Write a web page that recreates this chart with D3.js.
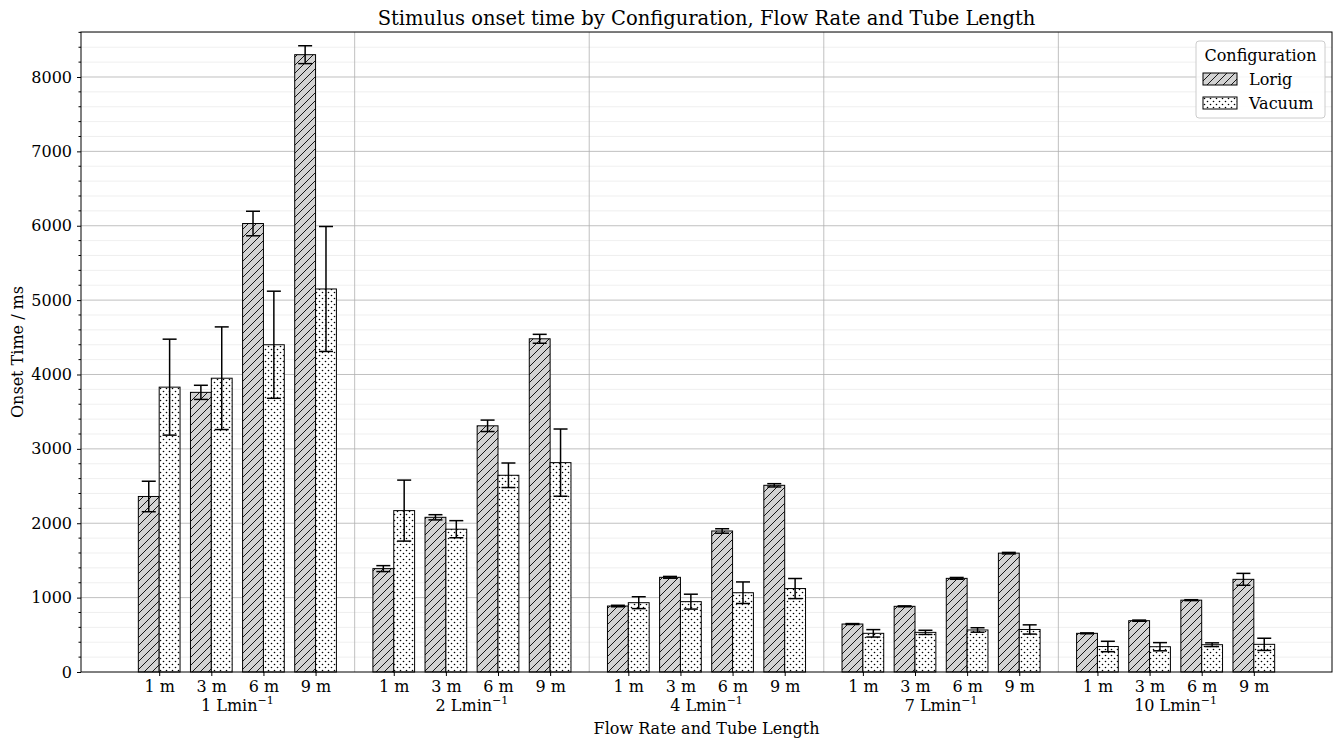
<!DOCTYPE html>
<html>
<head>
<meta charset="utf-8">
<script src="https://cdn.jsdelivr.net/npm/d3@7"></script>
<style>
  body { margin: 0; background: #fff; }
  text { font-family: "DejaVu Serif", serif; fill: #000; }
</style>
</head>
<body>
<script>
var flowRates = ["1", "2", "4", "7", "10"];
var tubeLengths = ["1 m", "3 m", "6 m", "9 m"];
var configs = ["Lorig", "Vacuum"];

// mean onset times (ms), one row per flow rate, one value per tube length
var lorigMean = [
  [2360, 3760, 6030, 8300],
  [1390, 2080, 3310, 4480],
  [887, 1273, 1896, 2510],
  [645, 883, 1259, 1598],
  [520, 690, 966, 1246]
];
var lorigErr = [
  [205, 95, 165, 120],
  [40, 35, 77, 60],
  [10, 12, 30, 22],
  [6, 6, 12, 10],
  [6, 8, 6, 80]
];
var vacuumMean = [
  [3830, 3950, 4400, 5150],
  [2170, 1920, 2645, 2815],
  [932, 946, 1066, 1122],
  [520, 533, 565, 572],
  [343, 340, 367, 372]
];
var vacuumErr = [
  [645, 690, 720, 840],
  [410, 115, 165, 452],
  [80, 100, 145, 135],
  [50, 28, 30, 62],
  [70, 55, 25, 82]
];
var yTicks = [0, 1000, 2000, 3000, 4000, 5000, 6000, 7000, 8000];

var W = 1335, H = 741;
var m = {left: 81, right: 3, top: 32, bottom: 69};

var svg = d3.select("body").append("svg")
  .attr("width", W).attr("height", H);

var defs = svg.append("defs");
var hatch = defs.append("pattern").attr("id", "hatch")
  .attr("patternUnits", "userSpaceOnUse").attr("width", 8).attr("height", 8);
hatch.append("rect").attr("width", 8).attr("height", 8).attr("fill", "#d3d3d3");
hatch.append("path").attr("d", "M-2,2 l4,-4 M0,8 l8,-8 M6,10 l4,-4")
  .attr("stroke", "#000").attr("stroke-width", 0.9);
var dots = defs.append("pattern").attr("id", "dots")
  .attr("patternUnits", "userSpaceOnUse").attr("width", 6).attr("height", 6);
dots.append("rect").attr("width", 6).attr("height", 6).attr("fill", "#fff");
dots.append("circle").attr("cx", 1.5).attr("cy", 1.5).attr("r", 0.8).attr("fill", "#000");
dots.append("circle").attr("cx", 4.5).attr("cy", 4.5).attr("r", 0.8).attr("fill", "#000");

// build flat rows
var rows = [];
flowRates.forEach(function(f, g) {
  tubeLengths.forEach(function(t, j) {
    rows.push({g: g, j: j, pos: g * 4.5 + j, cfg: 0, mean: lorigMean[g][j], err: lorigErr[g][j]});
    rows.push({g: g, j: j, pos: g * 4.5 + j, cfg: 1, mean: vacuumMean[g][j], err: vacuumErr[g][j]});
  });
});
var positions = [];
flowRates.forEach(function(f, g) {
  tubeLengths.forEach(function(t, j) { positions.push({g: g, j: j, pos: g * 4.5 + j}); });
});

var x = d3.scaleLinear().domain([-1.5, 22.5]).range([m.left, W - m.right]);
var y = d3.scaleLinear().domain([0, 8605]).range([H - m.bottom, m.top]);
var bw = x(0.4) - x(0);

// grid
var minor = d3.range(200, 8605, 200).filter(d => d % 1000 != 0);
svg.append("g").selectAll("line").data(minor).enter().append("line")
  .attr("x1", m.left).attr("x2", W - m.right)
  .attr("y1", d => y(d)).attr("y2", d => y(d))
  .attr("stroke", "#ebebeb").attr("stroke-width", 0.8);
svg.append("g").selectAll("line").data(yTicks.slice(1)).enter().append("line")
  .attr("x1", m.left).attr("x2", W - m.right)
  .attr("y1", d => y(d)).attr("y2", d => y(d))
  .attr("stroke", "#b0b0b0").attr("stroke-width", 0.8);
svg.append("g").selectAll("line").data([1, 2, 3, 4]).enter().append("line")
  .attr("x1", d => x(d * 4.5 - 0.75)).attr("x2", d => x(d * 4.5 - 0.75))
  .attr("y1", m.top).attr("y2", H - m.bottom)
  .attr("stroke", "#b0b0b0").attr("stroke-width", 0.8);

// bars
svg.append("g").selectAll("rect").data(rows).enter().append("rect")
  .attr("x", d => d.cfg == 0 ? x(d.pos) - bw : x(d.pos))
  .attr("y", d => y(d.mean))
  .attr("width", bw)
  .attr("height", d => y(0) - y(d.mean))
  .attr("fill", d => d.cfg == 0 ? "url(#hatch)" : "url(#dots)")
  .attr("stroke", "#000").attr("stroke-width", 1);

// error bars
var eb = svg.append("g").selectAll("g").data(rows).enter().append("g")
  .attr("transform", d => "translate(" + (x(d.pos) + (d.cfg == 0 ? -bw / 2 : bw / 2)) + ",0)");
eb.append("line").attr("y1", d => y(d.mean - d.err)).attr("y2", d => y(d.mean + d.err))
  .attr("stroke", "#000").attr("stroke-width", 1.5);
eb.append("line").attr("x1", -7).attr("x2", 7)
  .attr("y1", d => y(d.mean + d.err)).attr("y2", d => y(d.mean + d.err))
  .attr("stroke", "#000").attr("stroke-width", 1.5);
eb.append("line").attr("x1", -7).attr("x2", 7)
  .attr("y1", d => y(d.mean - d.err)).attr("y2", d => y(d.mean - d.err))
  .attr("stroke", "#000").attr("stroke-width", 1.5);

// frame
svg.append("rect").attr("x", m.left).attr("y", m.top)
  .attr("width", W - m.left - m.right).attr("height", H - m.top - m.bottom)
  .attr("fill", "none").attr("stroke", "#000").attr("stroke-width", 1);

// y axis
var yAxis = svg.append("g").attr("transform", "translate(" + m.left + ",0)")
  .call(d3.axisLeft(y).tickValues(yTicks).tickFormat(d3.format("d")).tickSize(4).tickPadding(5));
yAxis.select(".domain").remove();
yAxis.selectAll("text").style("font-size", "16px").style("font-family", "DejaVu Serif");
svg.append("g").selectAll("line").data(minor).enter().append("line")
  .attr("x1", m.left - 2.5).attr("x2", m.left)
  .attr("y1", d => y(d)).attr("y2", d => y(d)).attr("stroke", "#000");

// x axis
var xAxis = svg.append("g").attr("transform", "translate(0," + (H - m.bottom) + ")")
  .call(d3.axisBottom(x).tickValues(positions.map(p => p.pos))
    .tickFormat((d, i) => tubeLengths[positions[i].j]).tickSize(4).tickPadding(5));
xAxis.select(".domain").remove();
xAxis.selectAll("text").style("font-size", "16px").style("font-family", "DejaVu Serif");

var groupLabels = svg.append("g").selectAll("text").data(flowRates).enter().append("text")
  .attr("x", (d, g) => x(g * 4.5 + 1.5))
  .attr("y", 711)
  .attr("text-anchor", "middle")
  .style("font-size", "16px");
groupLabels.append("tspan").text(d => d + " Lmin");
groupLabels.append("tspan").attr("dy", -7).style("font-size", "11px").text("\u22121");

svg.append("text").attr("x", (m.left + W - m.right) / 2).attr("y", 734)
  .attr("text-anchor", "middle").style("font-size", "16px")
  .text("Flow Rate and Tube Length");
svg.append("text").attr("transform", "translate(23," + ((m.top + H - m.bottom) / 2) + ") rotate(-90)")
  .attr("text-anchor", "middle").style("font-size", "16px")
  .text("Onset Time / ms");
svg.append("text").attr("x", (m.left + W - m.right) / 2).attr("y", 25)
  .attr("text-anchor", "middle").style("font-size", "19.5px")
  .text("Stimulus onset time by Configuration, Flow Rate and Tube Length");

// legend
var lg = svg.append("g").attr("transform", "translate(1196,41)");
lg.append("rect").attr("width", 129).attr("height", 77).attr("rx", 3)
  .attr("fill", "#fff").attr("fill-opacity", 0.85).attr("stroke", "#ccc");
lg.append("text").attr("x", 64.5).attr("y", 20).attr("text-anchor", "middle")
  .style("font-size", "16px").text("Configuration");
var li = lg.selectAll("g.item").data(configs).enter().append("g")
  .attr("class", "item")
  .attr("transform", (d, i) => "translate(7," + (32 + i * 24) + ")");
li.append("rect").attr("width", 34).attr("height", 12)
  .attr("fill", (d, i) => i == 0 ? "url(#hatch)" : "url(#dots)")
  .attr("stroke", "#000").attr("stroke-width", 1);
li.append("text").attr("x", 46).attr("y", 12).style("font-size", "16px").text(d => d);
</script>
</body>
</html>
